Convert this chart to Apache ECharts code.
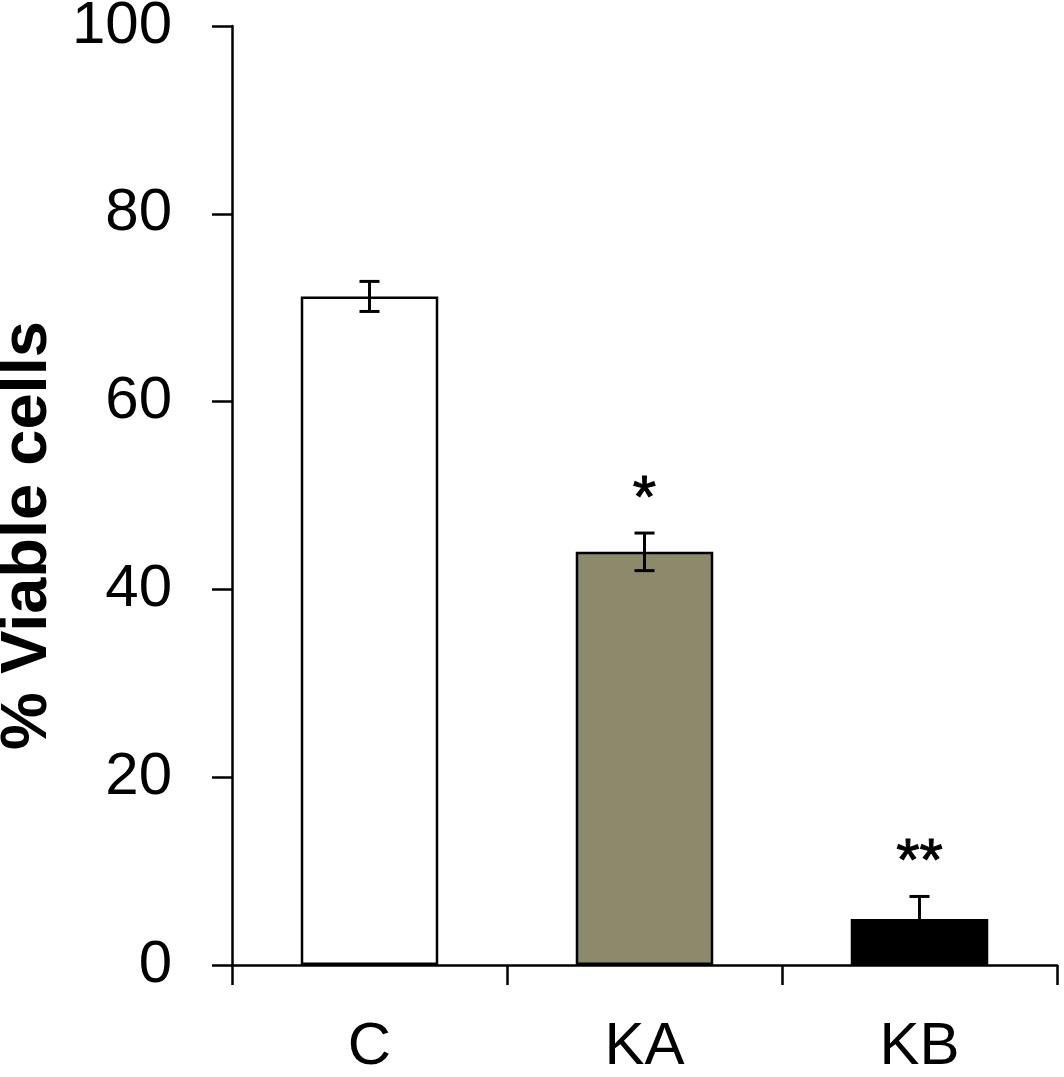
<!DOCTYPE html>
<html><head><meta charset="utf-8">
<script src="https://cdn.jsdelivr.net/npm/echarts@6/dist/echarts.min.js"></script>
<style>html,body{margin:0;padding:0;background:#fff}#c{width:1064px;height:1077px}</style>
</head><body><div id="c"></div>
<script>
const categories = ['C', 'KA', 'KB'];
const means = [71.2, 44.0, 4.9];
const errors = [1.6, 2.0, 2.4];
const significance = ['', '*', '**'];
const yMin = 0, yMax = 100, yStep = 20;
const barColors = ['#ffffff', '#8c8a6b', '#000000'];
const FONT = '"Liberation Sans", Arial, sans-serif';

const chart = echarts.init(document.getElementById('c'));
chart.setOption({
  backgroundColor: '#ffffff',
  animation: false,
  grid: { left: 232, right: 7, top: 26, bottom: 112, containLabel: false, outerBoundsMode: 'none' },
  xAxis: {
    type: 'category',
    data: categories,
    boundaryGap: true,
    axisLine: { lineStyle: { color: '#000', width: 2.5 } },
    axisTick: { show: true, length: 20, inside: false, alignWithLabel: false, lineStyle: { color: '#000', width: 2.5 } },
    axisLabel: { color: '#000', fontSize: 60, fontFamily: FONT, margin: 52 },
    splitLine: { show: false }
  },
  yAxis: {
    type: 'value',
    min: yMin, max: yMax, interval: yStep,
    name: '% Viable cells',
    nameLocation: 'middle',
    nameGap: 163,
    nameTextStyle: { color: '#000', fontSize: 65, fontWeight: 'bold', fontFamily: FONT, padding: [6, 80, 0, 0] },
    axisLine: { show: true, lineStyle: { color: '#000', width: 2.5 } },
    axisTick: { show: true, length: 20, inside: false, lineStyle: { color: '#000', width: 2.5 } },
    axisLabel: { color: '#000', fontSize: 60, fontFamily: FONT, margin: 60 },
    splitLine: { show: false }
  },
  series: [
    {
      type: 'bar',
      barWidth: '50%',
      data: means.map((v, i) => ({
        value: v,
        itemStyle: { color: barColors[i], borderColor: '#000', borderWidth: 2.5 }
      })),
      z: 2
    },
    {
      type: 'custom',
      z: 5,
      data: categories.map((c, i) => [i, means[i], errors[i]]),
      renderItem: function (params, api) {
        const i = api.value(0), m = api.value(1), e = api.value(2);
        const top = api.coord([i, m + e]);
        const bot = api.coord([i, m - e]);
        const hw = 10;
        const ls = { stroke: '#000', lineWidth: 3 };
        const children = [
          { type: 'line', shape: { x1: top[0], y1: top[1], x2: bot[0], y2: bot[1] }, style: ls },
          { type: 'line', shape: { x1: top[0] - hw, y1: top[1], x2: top[0] + hw, y2: top[1] }, style: ls },
          { type: 'line', shape: { x1: bot[0] - hw, y1: bot[1], x2: bot[0] + hw, y2: bot[1] }, style: ls }
        ];
        const s = significance[params.dataIndex];
        if (s) {
          children.push({
            type: 'text',
            style: { text: s, x: top[0], y: top[1] - 33, align: 'center', verticalAlign: 'middle',
                     fontSize: 60, fontFamily: FONT, fill: '#000', stroke: '#000', lineWidth: 1 }
          });
        }
        return { type: 'group', children: children };
      }
    }
  ]
});
</script>
</body></html>
